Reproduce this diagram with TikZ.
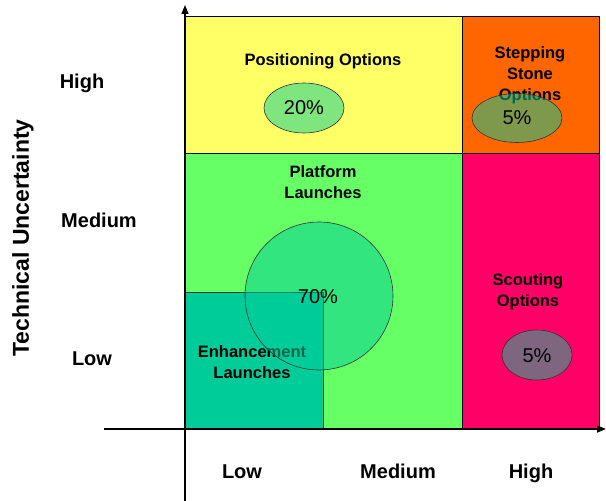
\documentclass[tikz,border=0pt]{standalone}
\usepackage{fontspec}
\setmainfont{Liberation Sans}
\usetikzlibrary{arrows.meta}
\definecolor{vang}{HTML}{FFFF66}
\definecolor{cam}{HTML}{FF6600}
\definecolor{xanhla}{HTML}{66FF66}
\definecolor{hong}{HTML}{FF0066}
\definecolor{ngoc}{HTML}{00CC99}
\begin{document}
\begin{tikzpicture}[line join = round,>={Triangle[length=9pt,width=7pt]},x = 1pt,y = 1pt,
    nhan/.style={align=center,inner sep=0pt,font=\bfseries\fontsize{16.5}{21}\selectfont},
    muc/.style={inner sep=0pt,anchor=base,font=\bfseries\fontsize{20}{24}\selectfont},
    tile/.style={fill opacity=.5,fill=ngoc,draw=black!80,line width=.6pt},
    pct/.style={inner sep=0pt,font=\fontsize{20}{24}\selectfont}]
    \useasboundingbox (-185,-72) rectangle (421,429);
    %Vẽ các ô
    \draw[fill=vang,line width=.6pt] (0,276) rectangle (277,413);
    \draw[fill=cam,line width=.6pt] (277,276) rectangle (414,413);
    \draw[fill=xanhla,line width=.6pt] (0,0) rectangle (277,276);
    \draw[fill=hong,line width=.6pt] (277,0) rectangle (414,276);
    \draw[fill=ngoc,draw=black!70!ngoc,line width=.6pt] (0,0) rectangle (138,137);
    %Tên các ô
    \node[nhan] (posopt) at (138,368) {Positioning Options};
    \node[nhan] (stepopt) at (345,354) {Stepping\\Stone\\Options};
    \node[nhan] (platlau) at (138,247) {Platform\\Launches};
    \node[nhan] (enhlau) at (67,67) {Enhancement\\Launches};
    \node[nhan] (scoutopt) at (343,137) {Scouting\\Options};
    %Vẽ các hình elip
    \draw[tile] (119,321) ellipse (40 and 25);
    \draw[tile] (332,311) ellipse (45 and 24.5);
    \draw[tile] (134,133) circle (74);
    \draw[tile] (352,74) ellipse (35 and 25);
    \node[pct] (p20) at (119,321) {20\%};
    \node[pct] (p5a) at (332,311) {5\%};
    \node[pct] (p70) at (133,132) {70\%};
    \node[pct] (p5b) at (352,73) {5\%};
    %Vẽ hệ trục
    \coordinate (xa) at (-81,0); \coordinate (xb) at (421,0);
    \coordinate (ya) at (0,-72); \coordinate (yb) at (0,424);
    \draw[->,line width=1.8pt] (xa)--(xb);
    \draw[->,line width=1.2pt] (ya)--(yb);
    %Nhãn trên các trục
    \foreach \n/\t/\x/\y in {yh/High/-103/340,ym/Medium/-86/201,yl/Low/-93/63,xl/Low/57/-50,xm/Medium/213/-50,xh/High/346/-50}
        \node[muc] (\n) at (\x,\y) {\t};
    \node[inner sep=0pt,rotate=90,font=\bfseries\fontsize{23}{26}\selectfont] (ytitle) at (-162,191) {Technical Uncertainty};
\end{tikzpicture}
\end{document}
